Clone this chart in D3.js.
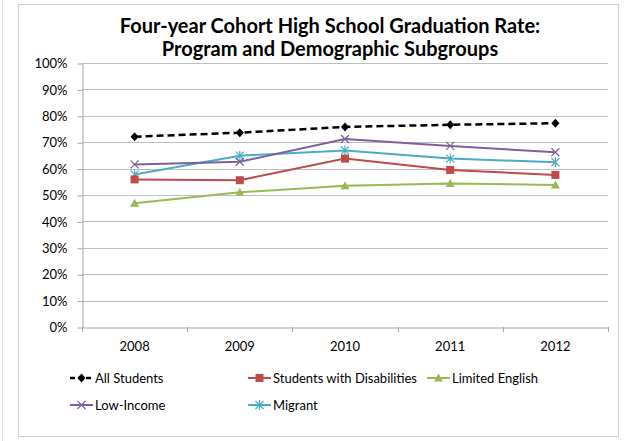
<!DOCTYPE html>
<html>
<head>
<meta charset="utf-8">
<script src="https://cdn.jsdelivr.net/npm/d3@7"></script>
<style>
  html, body { margin: 0; padding: 0; background: #fff; }
  svg { display: block; }
  text { font-family: Lato, "Open Sans", sans-serif; fill: #000; }
</style>
</head>
<body>
<script>
// Graduation years on the category axis
const years = ["2008", "2009", "2010", "2011", "2012"];

// Four-year cohort graduation rates (%) by subgroup
const allStudents   = [72.1, 73.6, 75.8, 76.6, 77.2];
const disabilities  = [55.9, 55.6, 63.8, 59.5, 57.6];
const limitedEng    = [46.9, 51.0, 53.5, 54.4, 53.8];
const lowIncome     = [61.6, 62.6, 71.2, 68.6, 66.2];
const migrant       = [57.8, 64.9, 66.9, 63.8, 62.4];

const yTicks = [0, 10, 20, 30, 40, 50, 60, 70, 80, 90, 100];

const titleLines = [
  "Four-year Cohort High School Graduation Rate:",
  "Program and Demographic Subgroups"
];

const series = [
  { name: "All Students", values: allStudents, color: "#000000", dash: "7,4", width: 2.5, marker: "diamond" },
  { name: "Students with Disabilities", values: disabilities, color: "#BE4B48", dash: null, width: 2, marker: "square" },
  { name: "Limited English", values: limitedEng, color: "#98B954", dash: null, width: 2, marker: "triangle" },
  { name: "Low-Income", values: lowIncome, color: "#7D60A0", dash: null, width: 2, marker: "x" },
  { name: "Migrant", values: migrant, color: "#4BACC6", dash: null, width: 2, marker: "star" }
];

const W = 625, H = 441;
const plot = { left: 82, right: 608, top: 63, bottom: 327 };

const svg = d3.select("body").append("svg").attr("width", W).attr("height", H);

// faint page edge and chart frame
svg.append("line").attr("x1", 2.5).attr("x2", 2.5).attr("y1", 0).attr("y2", H)
  .attr("stroke", "#e4e4e4");
svg.append("rect")
  .attr("x", 18.5).attr("y", 4.5).attr("width", 600).attr("height", 432)
  .attr("fill", "#fff").attr("stroke", "#d0d0d0").attr("stroke-width", 1);

const x = d3.scaleBand().domain(years).range([plot.left, plot.right]);
const y = d3.scaleLinear().domain([0, 100]).range([plot.bottom, plot.top]);

// horizontal gridlines
svg.append("g").selectAll("line").data(yTicks.filter(d => d > 0)).join("line")
  .attr("x1", plot.left).attr("x2", plot.right)
  .attr("y1", d => Math.round(y(d)) + 0.5).attr("y2", d => Math.round(y(d)) + 0.5)
  .attr("stroke", "#bfbfbf").attr("stroke-width", 1);

// y axis
const yAxis = svg.append("g")
  .attr("transform", `translate(${plot.left + 0.5},0.5)`)
  .call(d3.axisLeft(y).tickValues(yTicks).tickFormat(d => d + "%").tickSize(5).tickSizeOuter(0));
yAxis.select(".domain").attr("stroke", "#a6a6a6");
yAxis.selectAll(".tick line").attr("stroke", "#a6a6a6");
yAxis.selectAll(".tick text").attr("x", -15).attr("font-size", 13).attr("font-family", "Lato, sans-serif").attr("fill", "#000");

// x axis with tick marks on band boundaries
const xAxis = svg.append("g")
  .attr("transform", `translate(0,${plot.bottom + 0.5})`)
  .call(d3.axisBottom(x).tickSize(0).tickSizeOuter(0));
xAxis.select(".domain").attr("stroke", "#a6a6a6");
xAxis.selectAll(".tick text").attr("y", 14).attr("dy", "0.71em").attr("font-size", 13).attr("font-family", "Lato, sans-serif").attr("fill", "#000");
const bounds = years.map(d => x(d)).concat([x(years[years.length - 1]) + x.bandwidth()]);
svg.append("g").selectAll("line").data(bounds).join("line")
  .attr("x1", d => Math.round(d) + 0.5).attr("x2", d => Math.round(d) + 0.5)
  .attr("y1", plot.bottom).attr("y2", plot.bottom + 5)
  .attr("stroke", "#a6a6a6");

function drawMarker(g, type, color, cx, cy) {
  const s = 4;
  if (type === "diamond") {
    g.append("path").attr("d", `M${cx},${cy - s - 0.5}L${cx + s},${cy}L${cx},${cy + s + 0.5}L${cx - s},${cy}Z`).attr("fill", color);
  } else if (type === "square") {
    g.append("rect").attr("x", cx - 4).attr("y", cy - 4).attr("width", 8).attr("height", 8).attr("fill", color);
  } else if (type === "triangle") {
    g.append("path").attr("d", `M${cx},${cy - 4.5}L${cx + 4.5},${cy + 3.5}L${cx - 4.5},${cy + 3.5}Z`).attr("fill", color);
  } else if (type === "x") {
    g.append("path").attr("d", `M${cx - 4},${cy - 4}L${cx + 4},${cy + 4}M${cx - 4},${cy + 4}L${cx + 4},${cy - 4}`)
      .attr("stroke", color).attr("stroke-width", 1.2).attr("fill", "none");
  } else if (type === "star") {
    g.append("path").attr("d", `M${cx - 4},${cy - 4}L${cx + 4},${cy + 4}M${cx - 4},${cy + 4}L${cx + 4},${cy - 4}M${cx},${cy - 5}L${cx},${cy + 5}`)
      .attr("stroke", color).attr("stroke-width", 1.2).attr("fill", "none");
  }
}

const line = d3.line()
  .x((d, i) => x(years[i]) + x.bandwidth() / 2)
  .y(d => y(d));

// draw series in reverse so All Students sits on top
const lineG = svg.append("g");
series.slice().reverse().forEach(s => {
  lineG.append("path")
    .attr("d", line(s.values))
    .attr("fill", "none")
    .attr("stroke", s.color)
    .attr("stroke-width", s.width)
    .attr("stroke-dasharray", s.dash)
    .attr("stroke-linejoin", "round");
  const mg = lineG.append("g");
  s.values.forEach((v, i) => drawMarker(mg, s.marker, s.color, x(years[i]) + x.bandwidth() / 2, y(v)));
});

// title
svg.append("g").selectAll("text").data(titleLines).join("text")
  .attr("x", 330).attr("y", (d, i) => 33 + i * 23)
  .attr("text-anchor", "middle")
  .attr("font-size", 20).attr("font-weight", "bold")
  .text(d => d);

// legend
const legendPos = [
  { x: 70, y: 378 }, { x: 248, y: 378 }, { x: 427, y: 378 },
  { x: 70, y: 405 }, { x: 248, y: 405 }
];
series.forEach((s, i) => {
  const p = legendPos[i];
  const g = svg.append("g").attr("transform", `translate(${p.x},${p.y})`);
  g.append("line").attr("x1", 0).attr("x2", 23).attr("y1", 0).attr("y2", 0)
    .attr("stroke", s.color).attr("stroke-width", s.width).attr("stroke-dasharray", s.dash ? "5,3" : null);
  drawMarker(g, s.marker, s.color, 11.5, 0);
  g.append("text").attr("x", 25).attr("y", 0).attr("dy", "0.35em")
    .attr("font-size", 13).text(s.name);
});
</script>
</body>
</html>
